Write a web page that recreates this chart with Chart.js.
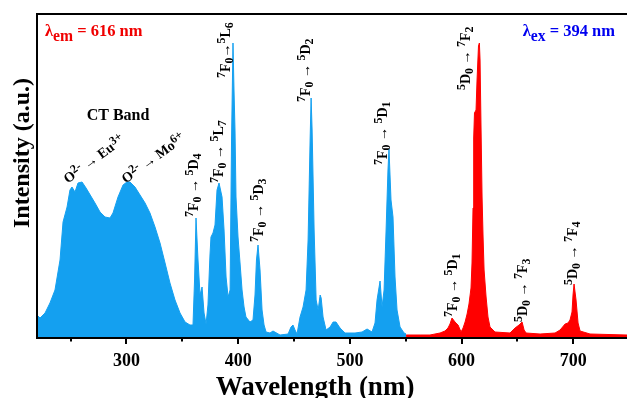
<!DOCTYPE html>
<html>
<head>
<meta charset="utf-8">
<script src="https://cdn.jsdelivr.net/npm/chart.js@4.4.1/dist/chart.umd.min.js"></script>
<style>
  html, body { margin: 0; padding: 0; background: #ffffff; }
  #wrap { width: 627px; height: 398px; }
</style>
</head>
<body>
<div id="wrap"><canvas id="c" width="627" height="398"></canvas></div>
<script>
// ---- Data ----
// Excitation spectrum (monitored at 616 nm) — blue
const excitationWavelength = [
  220, 222.7, 227.2, 231.6, 236.1, 240.6, 243.3, 246.9, 249.5, 251.3, 254, 256.7, 260.3, 263.9,
  271.9, 276.4, 280.9, 285.3, 288, 292.5, 297, 300.5, 303.2, 307.7, 312.2, 316.7, 321.1, 325.6,
  330.1, 334.6, 339, 343.5, 348, 352.5, 356.9, 359.6, 361, 362.3, 364.1, 365.9, 367.7, 369.5,
  371.3, 373, 374.8, 375.7, 377.5, 379.3, 381.1, 382.9, 385.6, 387.4, 389.2, 391, 392.8, 394.1,
  395.4, 396.3, 397.2, 398.1, 399.9, 401.7, 403.5, 405.3, 407, 410.6, 413.3, 415.1, 416.4, 417.8,
  419.6, 421.4, 423.2, 425, 428.5, 431.2, 437.5, 444.7, 447.3, 449.1, 450.9, 452.7, 455.4, 458.1,
  460.8, 462.6, 464.4, 465.3, 466.2, 468, 469.8, 471.6, 473.4, 474.3, 476, 478.7, 482.3, 485,
  487.6, 491.2, 495.7, 504.6, 510.9, 515.4, 519.8, 522.5, 524.3, 527, 528.8, 530.6, 532.4, 534.1,
  535, 536.8, 538.6, 540.4, 542.2, 544.9, 548.5, 550.3
];
const excitationIntensity = [
  23, 20, 25, 35, 48, 78, 116, 131, 148, 151, 146, 155, 156, 150,
  135, 126, 121, 120, 125, 141, 153, 156, 156, 151, 143, 135, 125, 111,
  95, 75, 55, 38, 25, 16, 13, 13, 58, 120, 78, 43, 51, 25,
  14, 33, 83, 101, 105, 113, 148, 155, 141, 108, 61, 41, 48, 198,
  295, 248, 208, 141, 101, 75, 48, 31, 21, 16, 18, 43, 78, 93,
  68, 28, 13, 6, 5, 7, 3, 4, 11, 13, 8, 4, 21, 31,
  48, 98, 198, 240, 208, 108, 38, 28, 43, 40, 21, 8, 11, 16,
  16, 10, 5, 5, 6, 9, 6, 15, 38, 57, 31, 48, 108, 168,
  189, 138, 121, 61, 28, 11, 5, 4
];
// Emission spectrum (excited at 394 nm) — red
const emissionWavelength = [
  550.3, 562.8, 571.7, 580.7, 585.1, 587.8, 589.6, 591.4, 594.1, 596.8, 599.5, 601.3, 603.1,
  604.9, 606.6, 608.4, 609.3, 610.2, 610.8, 611.5, 612.9, 613.8, 615.1, 615.9, 616.5, 617.4,
  618.3, 619.2, 620.1, 621.9, 623.6, 625.4, 629.9, 643.3, 647.8, 651.4, 654.1, 655.9, 657.7,
  670.2, 683.6, 688.1, 692.6, 695.2, 697, 698.8, 699.7, 700.6, 702.4, 704.2, 706, 714.9, 748
];
const emissionIntensity = [
  3, 3, 3, 5, 7, 10, 14, 20, 16, 13, 6, 10, 16,
  24, 34, 50, 75, 130, 200, 225, 228, 258, 292, 295, 278, 208,
  141, 101, 68, 41, 21, 11, 6, 5, 10, 13, 16, 8, 5,
  4, 5, 8, 14, 15, 18, 26, 43, 54, 38, 15, 7, 4, 3
];
// Axis ticks
const majorTicks = [300, 400, 500, 600, 700];
const minorTicks = [250, 350, 450, 550, 650, 750];

// Peak assignments (text, anchor wavelength, anchor intensity, angle)
const peakLabels = [
  { text: '^7F_0 → ^5D_4', wl: 359.6, inten: 121, angle: -90 },
  { text: '^7F_0 → ^5L_7', wl: 382.0, inten: 155, angle: -90 },
  { text: '^7F_0→^5L_6',   wl: 388.3, inten: 260, angle: -90 },
  { text: '^7F_0 → ^5D_3', wl: 417.8, inten: 96,  angle: -90 },
  { text: '^7F_0 → ^5D_2', wl: 459.9, inten: 236, angle: -90 },
  { text: '^7F_0 → ^5D_1', wl: 528.8, inten: 173, angle: -90 },
  { text: '^5D_0 → ^7F_2', wl: 603.0, inten: 248, angle: -90 },
  { text: '^7F_0 → ^5D_1', wl: 591.4, inten: 21,  angle: -90 },
  { text: '^5D_0 → ^7F_3', wl: 654.1, inten: 16,  angle: -90 },
  { text: '^5D_0 → ^7F_4', wl: 698.8, inten: 53,  angle: -90 },
  { text: 'O^{2-} → Eu^{3+}', wl: 245, inten: 158, angle: -36 },
  { text: 'O^{2-} → Mo^{6+}', wl: 297, inten: 158, angle: -36 }
];

const FONT = '"Liberation Serif", "Times New Roman", serif';

function parseRich(str) {
  const segs = [];
  let i = 0;
  while (i < str.length) {
    let ch = str[i];
    if (ch === '^' || ch === '_') {
      const mode = ch === '^' ? 'sup' : 'sub';
      i++;
      let t = '';
      if (str[i] === '{') {
        i++;
        while (i < str.length && str[i] !== '}') { t += str[i]; i++; }
        i++;
      } else { t = str[i]; i++; }
      segs.push({ t, mode });
    } else {
      let t = '';
      while (i < str.length && str[i] !== '^' && str[i] !== '_') { t += str[i]; i++; }
      segs.push({ t, mode: 'n' });
    }
  }
  return segs;
}

function richWidth(ctx, segs, size, opts) {
  let w = 0;
  segs.forEach(s => {
    const sz = s.mode === 'n' ? size : size * opts.scriptScale;
    ctx.font = `bold ${sz}px ${FONT}`;
    w += ctx.measureText(s.t).width;
  });
  return w;
}

function drawRich(ctx, str, x, y, size, color, angle, opts) {
  opts = Object.assign({ scriptScale: 0.85, supRaise: 0.32, subDrop: 0.22, baseShift: 0.33 }, opts || {});
  const segs = parseRich(str);
  ctx.save();
  ctx.translate(x, y);
  ctx.rotate(angle * Math.PI / 180);
  ctx.fillStyle = color;
  ctx.textBaseline = 'alphabetic';
  ctx.textAlign = 'left';
  let px = opts.align === 'right' ? -richWidth(ctx, segs, size, opts) : 0;
  const base = size * opts.baseShift;
  segs.forEach(s => {
    let sz = size, dy = 0;
    if (s.mode === 'sup') { sz = size * opts.scriptScale; dy = -size * opts.supRaise; }
    if (s.mode === 'sub') { sz = size * opts.scriptScale; dy = size * opts.subDrop; }
    ctx.font = `bold ${sz}px ${FONT}`;
    ctx.fillText(s.t, px, base + dy);
    px += ctx.measureText(s.t).width;
  });
  ctx.restore();
}

const decorPlugin = {
  id: 'decor',
  afterDatasetsDraw(chart) {
    const ctx = chart.ctx;
    const a = chart.chartArea;
    const xs = chart.scales.x, ys = chart.scales.y;
    ctx.save();
    // frame / axes
    ctx.strokeStyle = '#000';
    ctx.lineWidth = 2;
    ctx.beginPath();
    ctx.moveTo(a.left, a.top); ctx.lineTo(a.right, a.top);
    ctx.moveTo(a.left, a.top - 1); ctx.lineTo(a.left, a.bottom + 1);
    ctx.moveTo(a.left - 1, a.bottom); ctx.lineTo(a.right, a.bottom);
    ctx.stroke();
    // ticks
    ctx.lineWidth = 2;
    ctx.beginPath();
    majorTicks.forEach(v => { const p = Math.round(xs.getPixelForValue(v)); ctx.moveTo(p, a.bottom); ctx.lineTo(p, a.bottom + 6); });
    minorTicks.forEach(v => { const p = Math.round(xs.getPixelForValue(v)); if (p <= a.right) { ctx.moveTo(p, a.bottom); ctx.lineTo(p, a.bottom + 3.5); } });
    ctx.stroke();
    ctx.restore();

    // peak labels
    peakLabels.forEach(l => {
      const px = xs.getPixelForValue(l.wl);
      const py = ys.getPixelForValue(l.inten);
      drawRich(ctx, l.text, px, py, 14, '#000', l.angle);
    });
    // CT band
    ctx.save();
    ctx.font = `bold 16px ${FONT}`;
    ctx.fillStyle = '#000';
    ctx.textAlign = 'center';
    ctx.textBaseline = 'middle';
    ctx.fillText('CT Band', xs.getPixelForValue(292.5), ys.getPixelForValue(222));
    ctx.restore();
    // excitation / emission wavelengths
    drawRich(ctx, 'λ_{em} = 616 nm', a.left + 8, a.top + 22, 16.5, '#f00000', 0, { scriptScale: 0.95, subDrop: 0.3, baseShift: 0 });
    drawRich(ctx, 'λ_{ex} = 394 nm', a.right - 12, a.top + 22, 16.5, '#0000f0', 0, { scriptScale: 0.95, subDrop: 0.3, baseShift: 0, align: 'right' });

    // axis titles
    ctx.save();
    ctx.fillStyle = '#000';
    ctx.font = `bold 27px ${FONT}`;
    ctx.textAlign = 'center';
    ctx.textBaseline = 'alphabetic';
    ctx.fillText('Wavelength (nm)', a.left + 278, 395);
    ctx.translate(29, a.top + 139);
    ctx.rotate(-Math.PI / 2);
    ctx.font = `bold 24px ${FONT}`;
    ctx.fillText('Intensity (a.u.)', 0, 0);
    ctx.restore();
  }
};

new Chart(document.getElementById('c'), {
  type: 'line',
  data: {
    datasets: [
      {
        data: excitationWavelength.map((w, i) => ({ x: w, y: excitationIntensity[i] })),
        borderColor: 'rgb(20,160,240)',
        backgroundColor: 'rgb(20,160,240)',
        borderWidth: 1,
        pointRadius: 0,
        tension: 0,
        fill: 'origin'
      },
      {
        data: emissionWavelength.map((w, i) => ({ x: w, y: emissionIntensity[i] })),
        borderColor: 'rgb(255,0,0)',
        backgroundColor: 'rgb(255,0,0)',
        borderWidth: 1,
        pointRadius: 0,
        tension: 0,
        fill: 'origin'
      }
    ]
  },
  options: {
    responsive: false,
    animation: false,
    devicePixelRatio: 1,
    layout: { padding: { top: 14, left: 37, right: 0, bottom: 0 } },
    plugins: { legend: { display: false }, tooltip: { enabled: false } },
    scales: {
      x: {
        type: 'linear',
        min: 220,
        max: 748,
        afterBuildTicks: (scale) => { scale.ticks = majorTicks.map(v => ({ value: v })); },
        afterFit: (scale) => { scale.height = 60; },
        grid: { display: false, drawTicks: false },
        border: { display: false },
        ticks: {
          padding: 13,
          color: '#000',
          font: { family: FONT, size: 18, weight: 'bold' },
          maxRotation: 0
        }
      },
      y: {
        display: false,
        min: 0,
        max: 324
      }
    }
  },
  plugins: [decorPlugin]
});
</script>
</body>
</html>
